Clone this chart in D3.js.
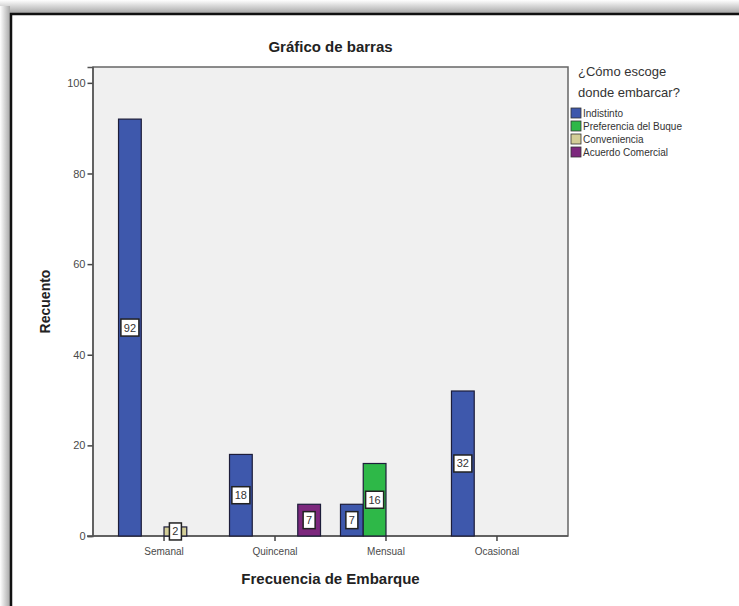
<!DOCTYPE html>
<html>
<head>
<meta charset="utf-8">
<script src="https://cdn.jsdelivr.net/npm/d3@7"></script>
<style>
  html, body { margin: 0; padding: 0; background: #fff; }
  svg { display: block; }
</style>
</head>
<body>
<svg id="chart" width="739" height="606"></svg>
<script>
// Frequency categories (x axis) and response series (legend)
const categories = ["Semanal", "Quincenal", "Mensual", "Ocasional"];
const seriesNames = ["Indistinto", "Preferencia del Buque", "Conveniencia", "Acuerdo Comercial"];
const seriesColors = ["#3e58ac", "#2eb848", "#d3ce97", "#7c287d"];

// Counts per category, one array per series
const indistinto = [92, 18, 7, 32];
const preferencia = [0, 0, 16, 0];
const conveniencia = [2, 0, 0, 0];
const acuerdo = [0, 7, 0, 0];
const seriesValues = [indistinto, preferencia, conveniencia, acuerdo];

const yTicks = [0, 20, 40, 60, 80, 100];

const svg = d3.select("#chart");
const font = "'Liberation Sans', Arial, sans-serif";

// Outer frame with soft shadow on top and left
const defs = svg.append("defs");
const gTop = defs.append("linearGradient").attr("id", "shTop").attr("x1", 0).attr("y1", 0).attr("x2", 0).attr("y2", 1);
gTop.append("stop").attr("offset", "0%").attr("stop-color", "#ffffff");
gTop.append("stop").attr("offset", "100%").attr("stop-color", "#a8a8a8");
const gLeft = defs.append("linearGradient").attr("id", "shLeft").attr("x1", 0).attr("y1", 0).attr("x2", 1).attr("y2", 0);
gLeft.append("stop").attr("offset", "0%").attr("stop-color", "#ffffff");
gLeft.append("stop").attr("offset", "100%").attr("stop-color", "#a8a8a8");

svg.append("rect").attr("x", 0).attr("y", 0).attr("width", 739).attr("height", 13).attr("fill", "url(#shTop)");
svg.append("rect").attr("x", 0).attr("y", 6).attr("width", 10).attr("height", 600).attr("fill", "url(#shLeft)");
svg.append("rect").attr("x", 11).attr("y", 14).attr("width", 800).attr("height", 700)
  .attr("fill", "#fff").attr("stroke", "#111").attr("stroke-width", 2.5);

// Plot area
const plot = { left: 93, right: 568, top: 67, bottom: 536 };

const x = d3.scaleBand().domain(categories)
  .range([plot.left, plot.right]).paddingInner(0.18).paddingOuter(0.23);
const xs = d3.scaleBand().domain(seriesNames).range([0, x.bandwidth()]);
const y = d3.scaleLinear().domain([0, 103.5]).range([plot.bottom, plot.top]);

svg.append("rect")
  .attr("x", plot.left).attr("y", plot.top)
  .attr("width", plot.right - plot.left).attr("height", plot.bottom - plot.top)
  .attr("fill", "#f0f0f0").attr("stroke", "#666").attr("stroke-width", 1.5);

// Title
svg.append("text").attr("x", (plot.left + plot.right) / 2).attr("y", 52)
  .attr("text-anchor", "middle").attr("font-family", font).attr("font-weight", "bold")
  .attr("font-size", 15).attr("fill", "#222").text("Gráfico de barras");

// Y axis
const yAxis = d3.axisLeft(y).tickValues(yTicks).tickSize(5).tickPadding(2);
const gy = svg.append("g").attr("transform", `translate(${plot.left - 0.5},0)`).call(yAxis);
gy.select(".domain").attr("stroke", "#555").attr("stroke-width", 1.5);
gy.selectAll(".tick line").attr("stroke", "#444").attr("stroke-width", 1.5);
gy.selectAll(".tick text").attr("font-family", font).attr("font-size", 11).attr("fill", "#4a4a4a");

// X axis
const xAxis = d3.axisBottom(x).tickSize(5).tickPadding(7);
const gx = svg.append("g").attr("transform", `translate(0,${plot.bottom})`).call(xAxis);
gx.select(".domain").attr("stroke", "#555").attr("stroke-width", 1.5)
  .attr("d", `M${plot.left - 6},0H${plot.right}`);
gx.selectAll(".tick line").attr("stroke", "#444").attr("stroke-width", 1.5);
gx.selectAll(".tick text").attr("font-family", font).attr("font-size", 10).attr("fill", "#4a4a4a");

// Axis titles
svg.append("text").attr("x", (plot.left + plot.right) / 2).attr("y", 584)
  .attr("text-anchor", "middle").attr("font-family", font).attr("font-weight", "bold")
  .attr("font-size", 15).attr("fill", "#222").text("Frecuencia de Embarque");
svg.append("text")
  .attr("transform", `translate(50,${(plot.top + plot.bottom) / 2}) rotate(-90)`)
  .attr("text-anchor", "middle").attr("font-family", font).attr("font-weight", "bold")
  .attr("font-size", 14).attr("fill", "#222").text("Recuento");

// Bars (zero counts are not drawn)
const cells = [];
seriesNames.forEach((s, si) => {
  categories.forEach((c, ci) => {
    const v = seriesValues[si][ci];
    if (v > 0) cells.push({ series: s, cat: c, value: v, color: seriesColors[si] });
  });
});

const bars = svg.append("g");
bars.selectAll("rect").data(cells).join("rect")
  .attr("x", d => x(d.cat) + xs(d.series))
  .attr("y", d => y(d.value))
  .attr("width", xs.bandwidth())
  .attr("height", d => y(0) - y(d.value))
  .attr("fill", d => d.color)
  .attr("stroke", "#1d1d3a").attr("stroke-width", 1.2);

// Value labels in white boxes at the middle of each bar
const labels = svg.append("g");
cells.forEach(d => {
  const cx = x(d.cat) + xs(d.series) + xs.bandwidth() / 2;
  const cy = y(d.value / 2);
  const txt = String(d.value);
  const w = txt.length > 1 ? 18 : 12;
  labels.append("rect").attr("x", cx - w / 2).attr("y", cy - 8.5)
    .attr("width", w).attr("height", 17)
    .attr("fill", "#fff").attr("stroke", "#222").attr("stroke-width", 1.5);
  labels.append("text").attr("x", cx).attr("y", cy + 4)
    .attr("text-anchor", "middle").attr("font-family", font)
    .attr("font-size", 11).attr("fill", "#333").text(txt);
});

// Legend
const legend = svg.append("g").attr("font-family", font);
legend.append("text").attr("x", 578).attr("y", 76).attr("font-size", 13).attr("fill", "#333").text("¿Cómo escoge");
legend.append("text").attr("x", 578).attr("y", 97).attr("font-size", 13).attr("fill", "#333").text("donde embarcar?");
seriesNames.forEach((s, i) => {
  const yy = 113 + i * 13;
  legend.append("rect").attr("x", 571).attr("y", yy - 5).attr("width", 10).attr("height", 10)
    .attr("fill", seriesColors[i]).attr("stroke", "#333").attr("stroke-width", 0.8);
  legend.append("text").attr("x", 583).attr("y", yy + 4).attr("font-size", 10).attr("fill", "#333").text(s);
});
</script>
</body>
</html>
